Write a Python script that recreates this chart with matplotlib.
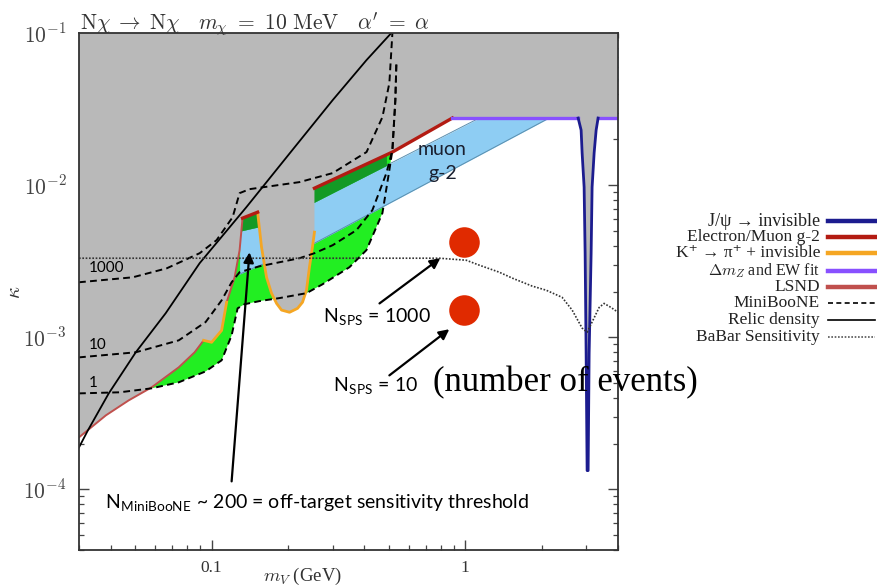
import numpy as np
import matplotlib
matplotlib.use('Agg')
import matplotlib.pyplot as plt
from matplotlib.lines import Line2D
from matplotlib.ticker import FixedLocator, LogLocator, NullFormatter

plt.rcParams['mathtext.fontset'] = 'cm'
plt.rcParams['font.family'] = ['Liberation Serif', 'DejaVu Serif']

# ---- data: m_V in GeV, kappa ----
# LSND boundary (two pieces)
lsnd_m = [0.0300, 0.0383, 0.0471, 0.0580, 0.0742, 0.0857, 0.0930]
lsnd_k = [2.20e-4, 3.07e-4, 3.85e-4, 4.69e-4, 6.35e-4, 7.97e-4, 9.55e-4]
lsnd2_m = [0.1146, 0.1177, 0.1232, 0.1289, 0.1324]
lsnd2_k = [1.70e-3, 1.95e-3, 2.48e-3, 3.74e-3, 6.07e-3]
# K+ -> pi+ + invisible (left arm and U shape)
kpi_l_m = [0.0930, 0.1000, 0.1095, 0.1146]
kpi_l_k = [9.55e-4, 9.27e-4, 1.11e-3, 1.70e-3]
kpi_u_m = [0.1518, 0.1573, 0.1646, 0.1722, 0.1803, 0.1886, 0.2028, 0.2182,
           0.2282, 0.2366, 0.2430, 0.2497, 0.2543]
kpi_u_k = [6.64e-3, 3.91e-3, 2.48e-3, 1.95e-3, 1.67e-3, 1.51e-3, 1.46e-3,
           1.55e-3, 1.70e-3, 2.04e-3, 2.89e-3, 3.91e-3, 4.91e-3]
# electron / muon g-2
eg2a_m = [0.1324, 0.1518]
eg2a_k = [6.07e-3, 6.64e-3]
eg2b_m = [0.2543, 0.516, 0.889]
eg2b_k = [9.55e-3, 0.0165, 0.0276]
# Delta m_Z and EW fit
dmz_m = [0.889, 2.786]
dmz_k = [0.0276, 0.0276]
dmz2_m = [3.339, 4.0]
dmz2_k = [0.0276, 0.0276]
# J/psi -> invisible dip
jpsi_m = [2.786, 2.862, 2.888, 2.941, 2.968, 2.995, 3.022, 3.050, 3.078,
          3.134, 3.162, 3.221, 3.280, 3.339]
jpsi_k = [0.0276, 0.0230, 0.0163, 9.71e-3, 3.57e-3, 7.85e-4, 1.33e-4, 1.33e-4,
          7.85e-4, 3.57e-3, 9.71e-3, 0.0163, 0.0230, 0.0276]
# muon g-2 favoured band
band_m = [0.1289, 0.1518, 0.2543, 1.135, 2.141, 4.0]
band_hi = [4.98e-3, 5.30e-3, 7.73e-3, 0.0276, 0.0474, 0.0805]
band_lo = [2.60e-3, 2.93e-3, 4.15e-3, 0.0157, 0.0276, 0.0481]
# dark green strip under g-2 line
dg_m = [0.1289, 0.1518, 0.2543, 0.4887]
dg_lo = [4.98e-3, 5.30e-3, 7.73e-3, 0.01346]
dg_hi = [6.0e-3, 6.64e-3, 9.55e-3, 0.0158]
# MiniBooNE event contours
mb1_m = [0.0300, 0.0434, 0.0580, 0.0742, 0.0947, 0.1095, 0.1199, 0.1266, 0.1349,
         0.1545, 0.185, 0.2366, 0.2735, 0.3495, 0.4076, 0.4713, 0.502, 0.516, 0.530, 0.535]
mb1_k = [4.28e-4, 4.35e-4, 4.62e-4, 5.06e-4, 5.97e-4, 7.06e-4, 1.03e-3, 1.55e-3, 1.65e-3,
         1.73e-3, 1.81e-3, 1.95e-3, 2.23e-3, 2.89e-3, 3.74e-3, 6.55e-3, 0.01256, 0.0170,
         0.0362, 0.0635]
mb10_m = [0.0300, 0.0502, 0.0742, 0.0947, 0.1095, 0.1199, 0.1289, 0.1545, 0.222,
          0.2543, 0.300, 0.3723, 0.4304, 0.4887, 0.516, 0.530, 0.535]
mb10_k = [7.38e-4, 7.97e-4, 9.55e-4, 1.26e-3, 1.75e-3, 2.30e-3, 2.68e-3, 2.93e-3,
          3.31e-3, 3.57e-3, 4.03e-3, 5.06e-3, 6.86e-3, 0.0120, 0.0170, 0.0362, 0.0635]
mb1000_m = [0.0300, 0.0489, 0.0665, 0.0897, 0.1046, 0.1210, 0.1289, 0.141, 0.222,
            0.300, 0.408, 0.4713, 0.502, 0.516]
mb1000_k = [2.30e-3, 2.48e-3, 2.84e-3, 3.57e-3, 4.35e-3, 6.16e-3, 8.86e-3, 9.41e-3,
            0.01047, 0.0120, 0.0165, 0.0280, 0.0469, 0.1]
# relic density
relic_m = [0.0300, 0.0325, 0.0393, 0.0502, 0.0659, 0.0897, 0.137, 0.208, 0.300, 0.408, 0.511]
relic_k = [1.89e-4, 2.44e-4, 4.28e-4, 7.96e-4, 1.44e-3, 3.07e-3, 7.16e-3, 0.0170,
           0.0362, 0.0664, 0.1]
# BaBar sensitivity
babar_m = [0.03, 0.79, 1.009, 1.135, 1.36, 1.531, 1.836, 2.084, 2.409, 2.638, 2.888,
           3.022, 3.162, 3.37, 3.526, 3.757, 4.0]
babar_k = [3.31e-3, 3.31e-3, 3.21e-3, 2.98e-3, 2.68e-3, 2.45e-3, 2.17e-3, 2.04e-3,
           1.83e-3, 1.51e-3, 1.15e-3, 1.08e-3, 1.26e-3, 1.57e-3, 1.67e-3, 1.57e-3, 1.46e-3]
# SPS points
sps_m = [0.99, 0.99]
sps_k = [4.22e-3, 1.51e-3]

c_gray = '#b9b9b9'
c_lime = '#22ee22'
c_dkgreen = '#139a25'
c_blue = '#8ecdf3'
c_red = '#b31b12'
c_lsnd = '#c0504d'
c_orange = '#f5a623'
c_purple = '#8850ff'
c_navy = '#1c1c8f'

fig = plt.figure(figsize=(8.77, 5.88), dpi=100)
ax = fig.add_axes([79 / 877, 1 - 550 / 588, 539 / 877, 517 / 588])
ax.set_xscale('log')
ax.set_yscale('log')
ax.set_xlim(0.03, 4.0)
ax.set_ylim(4e-5, 0.1)

# lime MiniBooNE region
ax.fill(mb1_m + [0.535, 0.03], mb1_k + [0.1, 0.1], color=c_lime, lw=0, zorder=1)
# muon g-2 band
ax.fill_between(band_m, band_lo, band_hi, color=c_blue, lw=0, zorder=2)
ax.plot(band_m, band_hi, color='#5b8fae', lw=0.7, zorder=2.1)
ax.plot(band_m, band_lo, color='#5b8fae', lw=0.7, zorder=2.1)
# dark green strip
ax.fill_between(dg_m, dg_lo, dg_hi, color=c_dkgreen, lw=0, zorder=2.5)

# grey excluded region
gm = lsnd_m + kpi_l_m + lsnd2_m + eg2a_m + kpi_u_m + eg2b_m + dmz_m + jpsi_m + dmz2_m + [4.0, 0.03]
gk = lsnd_k + kpi_l_k + lsnd2_k + eg2a_k + kpi_u_k + eg2b_k + dmz_k + jpsi_k + dmz2_k + [0.1, 0.1]
ax.fill(gm, gk, color=c_gray, lw=0, zorder=3)

# boundary lines
ax.plot(lsnd_m, lsnd_k, color=c_lsnd, lw=1.4, zorder=4)
ax.plot(lsnd2_m, lsnd2_k, color=c_lsnd, lw=1.4, zorder=4)
ax.plot(kpi_l_m, kpi_l_k, color=c_orange, lw=2, zorder=4)
ax.plot(kpi_u_m, kpi_u_k, color=c_orange, lw=2, zorder=4)
ax.plot(eg2a_m, eg2a_k, color=c_red, lw=2.4, zorder=4)
ax.plot(eg2b_m, eg2b_k, color=c_red, lw=2.4, zorder=4)
ax.plot(dmz_m, dmz_k, color=c_purple, lw=2.4, zorder=4)
ax.plot(dmz2_m, dmz2_k, color=c_purple, lw=2.4, zorder=4)
ax.plot(jpsi_m, jpsi_k, color=c_navy, lw=2, zorder=4.1)

dash = (0, (3.5, 2.2))
for mm, kk in [(mb1_m, mb1_k), (mb10_m, mb10_k), (mb1000_m, mb1000_k)]:
    ax.plot(mm, kk, color='k', lw=1.4, ls=dash, zorder=5)
ax.plot(relic_m, relic_k, color='k', lw=1.3, zorder=5)
ax.plot(babar_m, babar_k, color='#333333', lw=1.2, ls=(0, (1, 1)), zorder=5)

ax.plot(sps_m, sps_k, 'o', color='#e02a00', ms=22, mec='none', zorder=6)

# contour labels
for lab, yy in [('1000', 268), ('10', 345), ('1', 383)]:
    fig.text(89 / 877, 1 - yy / 588, lab, fontsize=11, family='Lato', va='center',
             ha='left', zorder=7)

ax.text(0.813, 0.0172, 'muon', fontsize=14, family='Lato', ha='center', va='center',
        color='#1a2030', zorder=7)
ax.text(0.813, 0.0120, 'g-2', fontsize=14, family='Lato', ha='center', va='center',
        color='#1a2030', zorder=7)

# arrows
arr = dict(arrowstyle='-|>', color='k', lw=1.6, mutation_scale=15, shrinkA=0, shrinkB=0)
ax.annotate('', xy=(0.141, 3.62e-3), xytext=(0.1199, 1.13e-4), arrowprops=arr, zorder=8)
ax.annotate('', xy=(0.797, 3.31e-3), xytext=(0.459, 1.67e-3), arrowprops=arr, zorder=8)
ax.annotate('', xy=(0.865, 1.13e-3), xytext=(0.502, 5.62e-4), arrowprops=arr, zorder=8)

fig.text(323 / 877, 1 - 317 / 588, r'N$_{\mathregular{SPS}}$ = 1000', fontsize=14,
         family='Lato', va='center', ha='left')
fig.text(333 / 877, 1 - 386 / 588, r'N$_{\mathregular{SPS}}$ = 10', fontsize=14,
         family='Lato', va='center', ha='left')
fig.text(433 / 877, 1 - 383 / 588, '(number of events)', fontsize=25,
         family='Liberation Serif', va='center', ha='left', zorder=9)
fig.text(105 / 877, 1 - 503 / 588,
         r'N$_{\mathregular{MiniBooNE}}$ ~ 200 = off-target sensitivity threshold',
         fontsize=14, family='Lato', va='center', ha='left')

# title, in three pieces
title_parts = [(80, r'$\mathrm{N}\chi\;\rightarrow\;\mathrm{N}\chi$'),
               (198, r'$m_\chi\ =\ 10\ \mathrm{MeV}$'),
               (357, r'$\alpha^\prime\ =\ \alpha$')]
for xp, tt in title_parts:
    fig.text(xp / 877, 1 - 29 / 588, tt, fontsize=15.5, va='baseline', ha='left',
             color='#333333')

# ticks
ax.xaxis.set_major_locator(FixedLocator([0.1, 1.0]))
ax.set_xticklabels(['0.1', '1'])
ax.xaxis.set_minor_locator(LogLocator(base=10, subs=np.arange(2, 10)))
ax.xaxis.set_minor_formatter(NullFormatter())
ax.yaxis.set_major_locator(FixedLocator([1e-4, 1e-3, 1e-2, 1e-1]))
ax.set_yticklabels([r'$10^{-4}$', r'$10^{-3}$', r'$10^{-2}$', r'$10^{-1}$'])
ax.yaxis.set_minor_locator(LogLocator(base=10, subs=np.arange(2, 10)))
ax.yaxis.set_minor_formatter(NullFormatter())
ax.tick_params(which='both', direction='in', top=True, right=True, color='#444444')
ax.tick_params(which='major', length=7, width=1)
ax.tick_params(which='minor', length=3.5, width=0.9)
ax.tick_params(axis='x', labelsize=12.5, labelcolor='#333333', pad=7)
ax.tick_params(axis='y', labelsize=15.5, labelcolor='#444444', pad=9)
for s in ax.spines.values():
    s.set_color('#333333')
    s.set_linewidth(1.3)
    s.set_zorder(10)

fig.text(303 / 877, 1 - 587 / 588, r'$m_V$ (GeV)', fontsize=13.5, ha='center', va='bottom',
         color='#333333')
fig.text(15 / 877, 1 - 292 / 588, r'$\kappa$', fontsize=15, rotation=90, ha='center',
         va='center', color='#333333')

# legend (right of the axes)
leg = [
    ('J/\u03c8 \u2192 invisible', dict(color=c_navy, lw=3.2)),
    ('Electron/Muon g-2', dict(color=c_red, lw=3.2)),
    ('K\u207a \u2192 \u03c0\u207a + invisible', dict(color=c_orange, lw=3.2)),
    (r'$\Delta m_Z$ and EW fit', dict(color=c_purple, lw=3.2)),
    ('LSND', dict(color=c_lsnd, lw=3.2)),
    ('MiniBooNE', dict(color='k', lw=1.2, ls=(0, (3, 2)))),
    ('Relic density', dict(color='k', lw=1.2)),
    ('BaBar Sensitivity', dict(color='#555555', lw=1.2, ls=(0, (1, 1)))),
]
rows = [221, 237, 253, 271, 287, 303, 320, 337]
sizes = [13, 12.5, 12.5, 11.5, 12.5, 12.5, 12.5, 12.5]
for (lab, st), yy, fs in zip(leg, rows, sizes):
    yf = 1 - yy / 588
    fig.text(820 / 877, yf, lab, fontsize=fs, ha='right', va='center', color='#222222')
    fig.add_artist(Line2D([828 / 877, 875 / 877], [yf, yf], **st))

fig.savefig('out.png', dpi=100)
